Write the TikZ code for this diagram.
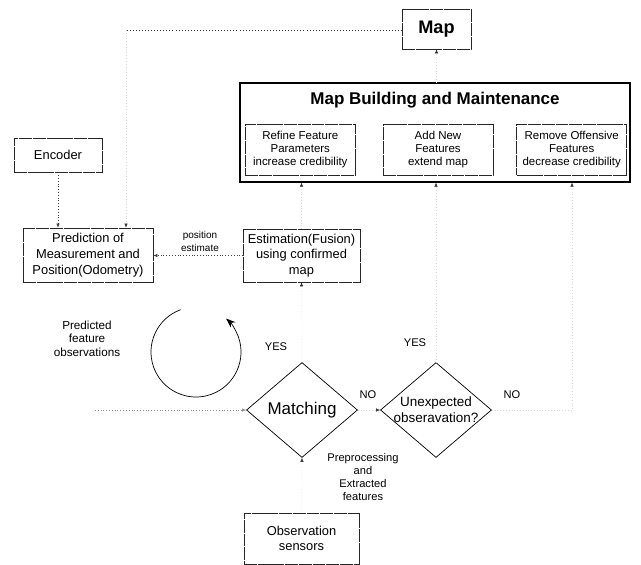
\documentclass[tikz,border=0pt]{standalone}
\usepackage{fontspec}
\setmainfont{Liberation Sans}
\usetikzlibrary{positioning, arrows.meta, shapes.geometric}

\begin{document}
\begin{tikzpicture}[x=0.03cm, y=-0.03cm,
      box/.style={draw=black!85, line width=0.6pt, dash pattern=on 11pt off 0.7pt, align=center, inner sep=2pt,
                  font=\fontsize{11}{13.4}\selectfont},
      subbox/.style={box, minimum width=3.3cm, minimum height=1.53cm, font=\fontsize{9.8}{11.2}\selectfont},
      decision/.style={diamond, draw, line width=0.6pt, aspect=1.17, minimum width=3.33cm, minimum height=2.85cm,
                  inner sep=-2pt, align=center},
      lbl/.style={align=center, inner sep=1pt, font=\fontsize{9.5}{11.3}\selectfont},
      link/.style={dotted, black!75, -{Latex[length=3.5pt, width=3pt]}},
      faint/.style={dotted, black!15, -{Latex[length=3.5pt, width=3pt, color=black!80]}}]
    \useasboundingbox (0,0) rectangle (641,565);
    % map and its upkeep
    \node[box, minimum width=2.07cm, minimum height=1.2cm, font=\bfseries\fontsize{15.5}{18}\selectfont] (map) at (436.5,29) {Map};
    \node[draw, line width=1.1pt, minimum width=11.7cm, minimum height=2.97cm] (mbm) at (435,132.5) {};
    \node[font=\bfseries\fontsize{14.5}{17}\selectfont] (mbmt) at (435,100) {Map Building and Maintenance};
    \node[subbox] (add) at (438,149.5) {Add New\\ Features\\ extend map};
    \node[subbox, left=0.81cm of add] (refine) {Refine Feature\\ Parameters\\ increase credibility};
    \node[subbox, right=0.69cm of add] (remove) {Remove Offensive\\ Features\\ decrease credibility};
    % odometry side
    \node[box, minimum width=2.64cm, minimum height=1.02cm] (enc) at (58,155) {Encoder};
    \node[box, minimum width=3.9cm, minimum height=1.62cm] (pred) at (88,255) {Prediction of\\ Measurement and\\ Position(Odometry)};
    \node[box, minimum width=3.51cm, minimum height=1.59cm] (est) at (301.5,255.5) {Estimation(Fusion)\\ using confirmed\\ map};
    % decisions and sensors
    \node[decision, font=\fontsize{14.5}{17}\selectfont] (match) at (302,410) {Matching};
    \node[decision, font=\fontsize{11.5}{13.6}\selectfont] (unexp) at (436,410) {Unexpected\\ obseravation?};
    \node[box, minimum width=3.45cm, minimum height=1.53cm] (obs) at (301.5,538.5) {Observation\\ sensors};
    % labels
    \node[lbl, font=\fontsize{8.5}{11}\selectfont] (posest) at (200,241.5) {position\\ estimate};
    \node[lbl, font=\fontsize{10}{11.5}\selectfont] (pfobs) at (87,338.5) {Predicted\\ feature\\ observations};
    \node[lbl] (prep) at (363,477) {Preprocessing\\ and\\ Extracted\\ features};
    \node[lbl] (yes1) at (276,347) {YES};
    \node[lbl] (no1) at (368,395) {NO};
    \node[lbl] (yes2) at (415,343) {YES};
    \node[lbl] (no2) at (512,395) {NO};
    % cycle
    \coordinate (cyc) at (196,352);
    \draw[line width=0.6pt, -{Stealth[length=8pt, width=6pt]}] ([shift={(110:1.35cm)}]cyc) arc[start angle=110, end angle=408, radius=1.35cm];
    % connectors
    \coordinate (mapturn) at (126,30);
    \coordinate (noturn) at (572,410);
    \coordinate (pfo) at (95,410);
    \draw[dotted, black!80, line width=0.6pt] (map.west |- mapturn) -- (mapturn);
    \draw[faint] (mapturn) -- (mapturn |- pred.north);
    \draw[faint] (mbm.north -| map) -- (map.south);
    \draw[link] (enc) -- (enc |- pred.north);
    \draw[link] (est.west) -- (pred.east |- est.west);
    \draw[faint] (est.north) -- (est.north |- mbm.south);
    \draw[faint] (match.north) -- (est.south);
    \draw[faint] (unexp.north) -- (unexp.north |- mbm.south);
    \draw[faint] (unexp.east) -- (noturn) -- (noturn |- mbm.south);
    \draw[faint] (match.east) -- (unexp.west);
    \draw[faint] (obs.north) -- (match.south);
    \draw[link, black!45] (pfo) -- (match.west);
  \end{tikzpicture}
\end{document}
